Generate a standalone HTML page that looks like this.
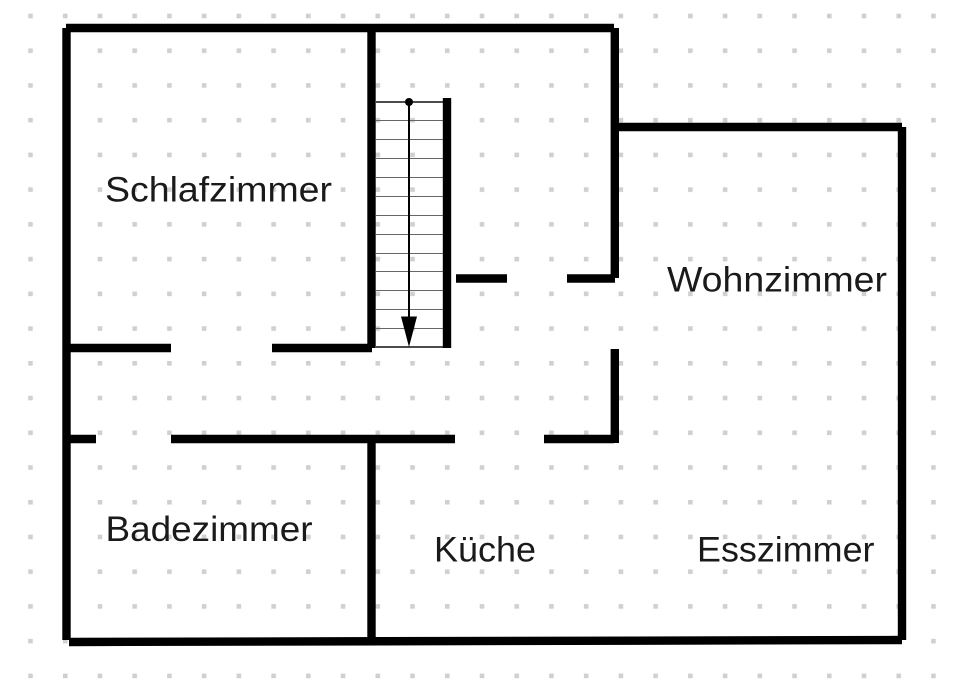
<!DOCTYPE html>
<html><head><meta charset="utf-8"><style>
html,body{margin:0;padding:0;background:#fff;width:960px;height:695px;overflow:hidden}
svg{display:block}
text{font-family:"Liberation Sans",sans-serif;font-size:35px;fill:#1a1a1a}
</style></head><body>
<svg width="960" height="695" viewBox="0 0 960 695" xmlns="http://www.w3.org/2000/svg">
<defs><pattern id="d" x="28.2" y="13.700" width="34.73" height="34.73" patternUnits="userSpaceOnUse"><rect x="0" y="0" width="4.600" height="4.600" fill="#d0d0d0"/></pattern></defs>
<rect x="20" y="10" width="920" height="670" fill="url(#d)"/>
<g fill="none" stroke="#666" stroke-width="1.100">
<path d="M376 120.500H443M376 139.500H443M376 158.500H443M376 177.500H443M376 196.500H443M376 215.500H443M376 234.500H443M376 253.500H443M376 271.500H443M376 290.500H443M376 309.500H443M376 328.500H443"/>
</g>
<path d="M376 102H443M376 347H443" stroke="#111" stroke-width="1.600" fill="none"/>
<path d="M409 102V320" stroke="#000" stroke-width="2" fill="none"/>
<circle cx="409" cy="102" r="4" fill="#000"/>
<path d="M401 316.500H417L409 347Z" fill="#000"/>
<g stroke="#000" stroke-width="8.400" fill="none">
<path d="M66.500 28V640"/>
<path d="M66 28H614"/>
<path d="M614.800 28V278"/>
<path d="M614 127H902"/>
<path d="M902 127V640"/>
<path d="M69 642L902 640"/>
<path d="M371.500 28V348"/>
<path d="M371.500 439V642"/>
<path d="M447 98V348"/>
<path d="M66 348H171"/>
<path d="M272 348H372"/>
<path d="M66 439H96"/>
<path d="M171 439H455"/>
<path d="M544 439H614"/>
<path d="M614.800 349V443"/>
<path d="M456 278.500H507"/>
<path d="M567 278.500H615"/>
</g>
<text x="105" y="201.500" textLength="227" lengthAdjust="spacingAndGlyphs">Schlafzimmer</text>
<text x="667" y="291.500" textLength="220" lengthAdjust="spacingAndGlyphs">Wohnzimmer</text>
<text x="105.500" y="541" textLength="207" lengthAdjust="spacingAndGlyphs">Badezimmer</text>
<text x="434" y="561.500" textLength="102" lengthAdjust="spacingAndGlyphs">Küche</text>
<text x="697" y="561.500" textLength="177.500" lengthAdjust="spacingAndGlyphs">Esszimmer</text>
</svg>
</body></html>
